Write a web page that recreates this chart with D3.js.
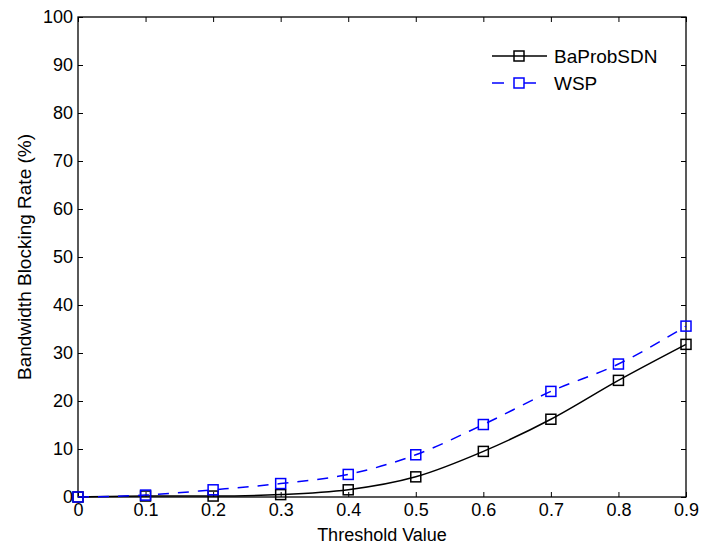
<!DOCTYPE html>
<html>
<head>
<script src="https://cdn.jsdelivr.net/npm/d3@7"></script>
<style>
  body { margin: 0; background: #fff; }
  text { font-family: "Liberation Sans", Arial, sans-serif; }
</style>
</head>
<body>
<script>
var w = 701, h = 548;
var margin = {left: 78, right: 15, top: 17, bottom: 51};

var thresholds = [0, 0.1, 0.2, 0.3, 0.4, 0.5, 0.6, 0.7, 0.8, 0.9];
var baProbSDN = [0, 0.2, 0.2, 0.5, 1.5, 4.2, 9.5, 16.2, 24.3, 31.8];
var wsp = [0, 0.4, 1.5, 2.8, 4.7, 8.8, 15.1, 22.0, 27.7, 35.6];
var xTicks = [0, 0.1, 0.2, 0.3, 0.4, 0.5, 0.6, 0.7, 0.8, 0.9];
var yTicks = [0, 10, 20, 30, 40, 50, 60, 70, 80, 90, 100];

var series = [
  {name: "BaProbSDN", values: baProbSDN, color: "#000", dash: null},
  {name: "WSP", values: wsp, color: "#0000ff", dash: "11,9"}
];

var svg = d3.select("body").append("svg")
  .attr("width", w)
  .attr("height", h);

var x = d3.scaleLinear().domain([0, 0.9]).range([margin.left, w - margin.right]);
var y = d3.scaleLinear().domain([0, 100]).range([h - margin.bottom, margin.top]);

// box with inward ticks on all four sides
function tickStyle(g) {
  g.select(".domain").remove();
  g.selectAll(".tick line").attr("stroke", "#000");
  g.selectAll(".tick text").attr("font-size", 18).attr("fill", "#000");
}
svg.append("g")
  .attr("transform", "translate(0," + y(0) + ")")
  .call(d3.axisBottom(x).tickValues(xTicks).tickSizeInner(-5).tickSizeOuter(0).tickPadding(6).tickFormat(d3.format("")))
  .call(tickStyle);
svg.append("g")
  .attr("transform", "translate(0," + y(100) + ")")
  .call(d3.axisTop(x).tickValues(xTicks).tickSizeInner(-5).tickSizeOuter(0).tickFormat(""))
  .call(tickStyle);
svg.append("g")
  .attr("transform", "translate(" + x(0) + ",0)")
  .call(d3.axisLeft(y).tickValues(yTicks).tickSizeInner(-5).tickSizeOuter(0).tickPadding(5))
  .call(tickStyle);
svg.append("g")
  .attr("transform", "translate(" + x(0.9) + ",0)")
  .call(d3.axisRight(y).tickValues(yTicks).tickSizeInner(-5).tickSizeOuter(0).tickFormat(""))
  .call(tickStyle);

svg.append("rect")
  .attr("x", x(0)).attr("y", y(100))
  .attr("width", x(0.9) - x(0)).attr("height", y(0) - y(100))
  .attr("fill", "none").attr("stroke", "#000").attr("stroke-width", 1.3);

var line = d3.line()
  .x(function(d, i) { return x(thresholds[i]); })
  .y(function(d) { return y(d); })
  .curve(d3.curveMonotoneX);

series.forEach(function(s) {
  svg.append("path")
    .datum(s.values)
    .attr("fill", "none")
    .attr("stroke", s.color)
    .attr("stroke-width", 1.5)
    .attr("stroke-dasharray", s.dash)
    .attr("d", line);
  svg.selectAll(null)
    .data(s.values)
    .enter().append("rect")
    .attr("x", function(d, i) { return x(thresholds[i]) - 5; })
    .attr("y", function(d) { return y(d) - 5; })
    .attr("width", 10).attr("height", 10)
    .attr("fill", "none")
    .attr("stroke", s.color)
    .attr("stroke-width", 1.5);
});

// legend
var legend = svg.append("g").attr("transform", "translate(492,56)");
series.forEach(function(s, i) {
  var g = legend.append("g").attr("transform", "translate(0," + (i * 27) + ")");
  g.append("line")
    .attr("x1", 0).attr("x2", 55).attr("y1", 0).attr("y2", 0)
    .attr("stroke", s.color).attr("stroke-width", 1.5)
    .attr("stroke-dasharray", s.dash ? "12,20" : null);
  g.append("rect")
    .attr("x", 22).attr("y", -5).attr("width", 10).attr("height", 10)
    .attr("fill", "none").attr("stroke", s.color).attr("stroke-width", 1.5);
  g.append("text")
    .attr("x", 62).attr("y", 0).attr("dy", "0.36em")
    .attr("font-size", 19)
    .text(s.name);
});

svg.append("text")
  .attr("x", (x(0) + x(0.9)) / 2)
  .attr("y", 541)
  .attr("text-anchor", "middle")
  .attr("font-size", 18)
  .text("Threshold Value");

svg.append("text")
  .attr("transform", "translate(31," + ((y(0) + y(100)) / 2) + ") rotate(-90)")
  .attr("text-anchor", "middle")
  .attr("font-size", 19)
  .text("Bandwidth Blocking Rate (%)");
</script>
</body>
</html>
